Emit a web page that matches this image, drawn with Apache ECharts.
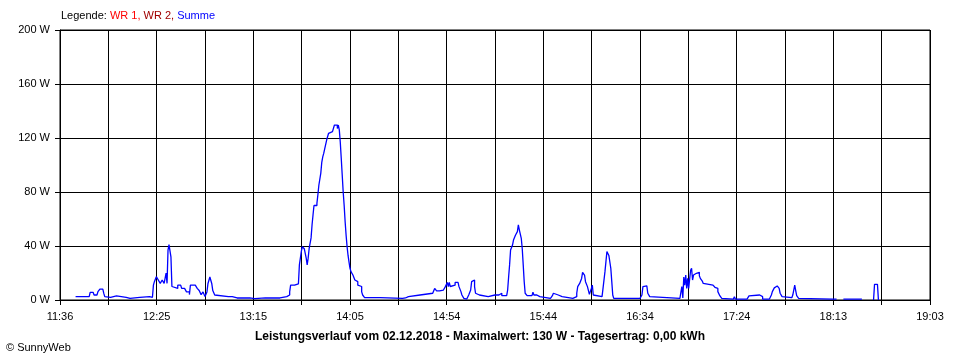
<!DOCTYPE html>
<html>
<head>
<meta charset="utf-8">
<script src="https://cdn.jsdelivr.net/npm/echarts@6/dist/echarts.min.js"></script>
<style>
html,body{margin:0;padding:0;background:#fff;}
#chart{width:960px;height:360px;}
</style>
</head>
<body>
<div id="chart"></div>
<script>
// ---- data ----
const axisStart = '11:36:00';
const axisEnd = '19:03:00';
const tickLabels = ['11:36','12:25','13:15','14:05','14:54','15:44','16:34','17:24','18:13','19:03'];
const yTicks = [0, 40, 80, 120, 160, 200];

const times = [
'11:44:00','11:48:30','11:51:00','11:51:30','11:53:00','11:53:30','11:55:00','11:55:30','11:56:30','11:58:00',
'11:58:30','11:59:00','12:00:00','12:02:00','12:02:30','12:05:00','12:05:30','12:10:00','12:12:00','12:17:00',
'12:22:00','12:23:30','12:24:00','12:24:30','12:25:30','12:26:30','12:27:30','12:28:30','12:29:30','12:30:30',
'12:31:00','12:31:30','12:32:00','12:32:30','12:33:00','12:33:30','12:34:00','12:36:30','12:38:00','12:38:30',
'12:40:00','12:41:00','12:42:30','12:43:00','12:45:30','12:46:30','12:47:30','12:48:30','12:49:30','12:50:30',
'12:51:30','12:52:00','12:53:00','12:54:00','12:54:30','12:55:30','12:56:30','13:02:30','13:04:30','13:07:00',
'13:08:00','13:11:00','13:13:30','13:16:00','13:17:00','13:21:30','13:24:00','13:25:00','13:29:00','13:32:30',
'13:34:00','13:34:30','13:36:30','13:38:30','13:39:00','13:40:00','13:40:30','13:41:30','13:42:30','13:43:00',
'13:43:30','13:44:00','13:45:00','13:45:30','13:46:00','13:46:30','13:48:00','13:48:30','13:49:00','13:50:00',
'13:50:30','13:51:00','13:51:30','13:52:00','13:52:30','13:53:00','13:54:00','13:55:00','13:56:00','13:56:30',
'13:57:00','13:58:30','13:59:00','13:59:30','14:00:00','14:00:30','14:01:00','14:01:30','14:02:00','14:02:30',
'14:03:00','14:03:30','14:04:00','14:04:30','14:05:00','14:05:30','14:06:00','14:06:30','14:07:30','14:08:30',
'14:09:00','14:10:00','14:11:00','14:11:30','14:12:30','14:16:00','14:17:00','14:20:30','14:32:00','14:33:30',
'14:35:00','14:41:00','14:42:00','14:47:30','14:48:30','14:49:30','14:51:00','14:53:00','14:54:00','14:55:00',
'14:55:30','14:56:00','14:56:30','14:57:30','14:59:00','15:00:30','15:01:00','15:02:00','15:02:30','15:03:30',
'15:04:30','15:05:00','15:06:00','15:07:00','15:07:30','15:08:00','15:09:00','15:09:30','15:10:00','15:11:30',
'15:16:00','15:17:00','15:19:30','15:20:00','15:20:30','15:21:30','15:23:00','15:25:30','15:26:00','15:26:30',
'15:27:00','15:27:30','15:28:30','15:29:00','15:30:00','15:31:00','15:31:30','15:32:00','15:33:00','15:33:30',
'15:34:00','15:34:30','15:35:00','15:36:00','15:38:30','15:39:00','15:39:30','15:41:00','15:42:30','15:48:00',
'15:49:00','15:49:30','15:50:30','15:52:00','15:54:00','15:59:30','16:00:30','16:01:30','16:02:00','16:03:00',
'16:04:00','16:04:30','16:05:30','16:06:00','16:07:00','16:08:00','16:09:00','16:09:30','16:10:00','16:11:00',
'16:14:30','16:15:00','16:16:00','16:16:30','16:17:00','16:17:30','16:18:00','16:19:00','16:19:30','16:20:00',
'16:20:30','16:34:00','16:35:00','16:35:30','16:36:30','16:37:30','16:38:00','16:39:00','16:40:00','16:54:30',
'16:55:30','16:56:00','16:56:30','16:57:00','16:57:30','16:58:00','16:58:30','16:59:00','16:59:30','17:00:00',
'17:00:30','17:01:00','17:01:30','17:02:00','17:03:00','17:03:30','17:04:30','17:05:00','17:06:00','17:06:30',
'17:07:30','17:11:30','17:12:30','17:13:30','17:14:00','17:15:00','17:16:00','17:16:30','17:22:00','17:22:30',
'17:23:00','17:29:00','17:29:30','17:30:00','17:31:00','17:35:30','17:36:00','17:37:00','17:40:30','17:41:00',
'17:41:30','17:42:00','17:43:00','17:43:30','17:44:30','17:45:30','17:46:00','17:47:00','17:47:30','17:52:00',
'17:52:30','17:53:00','17:53:30','17:54:00','17:54:30','17:55:30','17:56:00','18:13:00','18:15:00','18:18:30',
'18:23:30','18:28:00','18:34:00','18:34:30','18:36:00','18:36:30'
];

const watts = [
2.5,2.5,2.5,5.7,5.7,3.7,3.7,6.2,8.1,8.1,
4.9,2.5,2,2,3,3,2,1.2,2,2.5,
2,2.5,11,13.6,17.3,14.8,12.3,14.8,12.3,20,
12.3,37,41,40.7,32,10,8.6,11,11,8.6,
8.6,6,4,11,11,8.6,7,4,6,2.5,
6,12,17,12,7,3.7,2.5,2.5,1.5,0.5,
1.5,1.5,1,0.5,1.5,1.5,0.5,1.5,2.5,3.7,
6,11,12,12,26,36,39.5,38,31,26,
31,38,46,55.6,63,70,71.6,78,85,94,
102,106,108.6,112,113,118.5,123.5,124.7,123.5,126,
129.6,127,129.6,126,117,105,92.6,80,70,58,
48,39.5,33,28,23.5,21,19.8,18.5,14.8,13.6,
11,10,6,3.7,1.7,0.7,1.7,1.2,1.5,2.5,
3.7,3.7,5,5,8.6,6.7,7.4,6,9.9,13,
10,13,10,11,13,13,9.9,6.2,3.7,1.2,
0.7,1.7,3.7,7.4,13.6,14.8,9.9,5,3.7,2.5,
2.5,3.7,3.7,5,3.7,5,3.2,3.7,7.4,17,
26,37,40.7,44.4,48,50.6,55.6,52,45.7,38,
26,13.6,5,3.2,3.2,5.7,3.7,2.5,1.2,1.2,
3.2,5,3.7,2.5,1.2,1.2,2.5,5,9.9,12.3,
16,20.5,18.5,13.6,9.9,4.2,8.6,11,3.7,2.5,
2.5,8.6,21,28.4,35.8,37,33,23.5,13.6,3.7,
1.2,1.2,3.7,9.9,10.4,10.4,5,2.5,1.2,1.2,
10,1.5,17,11,18.5,8.6,16,8.6,8.6,22,
23.5,14.8,18.5,19.8,21,20.5,18,16,14,12.3,
11,11,9.4,8.6,6.2,3.2,1.2,0.7,0.7,2.5,
0.7,0.7,1.7,3,3.7,3.7,2.5,0.7,0.7,1.7,
3.7,6.2,9,10.4,10.4,8.6,5,2.5,1.7,1.7,
3.7,7.4,11,7,3.2,1.2,0.7,0.7,null,0.7,
0.7,null,0,11.6,11.6,0
];

const legendParts = ['Legende: ', 'WR 1,', ' WR 2,', ' Summe'];
const titleText = 'Leistungsverlauf vom 02.12.2018 - Maximalwert: 130 W - Tagesertrag: 0,00 kWh';
const copyText = '\u00A9 SunnyWeb';

// ---- build ----
function toSec(t) {
  const p = t.split(':').map(Number);
  return p[0] * 3600 + p[1] * 60 + (p[2] || 0);
}
const t0 = toSec(axisStart);
const span = toSec(axisEnd) - t0;          // 26820 s
const step = span / ((tickLabels.length - 1) * 2); // 1490 s
const seriesData = times.map((t, i) => [toSec(t) - t0, watts[i] === null ? '-' : watts[i]]);

const FONT = "'Liberation Sans', Arial, sans-serif";
const chart = echarts.init(document.getElementById('chart'), null, {renderer: 'canvas'});
chart.setOption({
  animation: false,
  backgroundColor: '#ffffff',
  grid: {left: 60, right: 30, top: 30, bottom: 60, show: true, borderColor: '#000', borderWidth: 1},
  xAxis: {
    type: 'value', min: 0, max: span, interval: step,
    axisLine: {show: true, lineStyle: {color: '#000', width: 1}},
    axisTick: {show: true, length: 5, lineStyle: {color: '#000'}},
    splitLine: {show: true, lineStyle: {color: '#000', width: 1}},
    axisLabel: {
      color: '#000', fontFamily: FONT, fontSize: 11, margin: 11,
      showMinLabel: true, showMaxLabel: true,
      formatter: function (v) {
        const k = Math.round(v / step);
        return k % 2 === 0 ? tickLabels[k / 2] : '';
      }
    }
  },
  yAxis: {
    type: 'value', min: yTicks[0], max: yTicks[yTicks.length - 1], interval: yTicks[1] - yTicks[0],
    axisLine: {show: true, lineStyle: {color: '#000', width: 1}},
    axisTick: {show: true, length: 5, lineStyle: {color: '#000'}},
    splitLine: {show: true, lineStyle: {color: '#000', width: 1}},
    axisLabel: {color: '#000', fontFamily: FONT, fontSize: 11, margin: 10, formatter: '{value} W'}
  },
  series: [{
    type: 'line', name: 'Summe', step: 'end', showSymbol: false, connectNulls: false,
    lineStyle: {color: '#0000ff', width: 1.3}, itemStyle: {color: '#0000ff'},
    data: seriesData
  }],
  graphic: [
    {type: 'text', left: 61, top: 10, style: {
      text: '{k|' + legendParts[0] + '}{a|' + legendParts[1] + '}{b|' + legendParts[2] + '}{c|' + legendParts[3] + '}',
      font: '11px ' + FONT,
      rich: {
        k: {fill: '#000', fontSize: 11, fontFamily: FONT},
        a: {fill: '#ff0000', fontSize: 11, fontFamily: FONT},
        b: {fill: '#a00000', fontSize: 11, fontFamily: FONT},
        c: {fill: '#0000ff', fontSize: 11, fontFamily: FONT}
      }
    }},
    {type: 'text', x: 480, y: 337, style: {
      text: titleText, fill: '#000', font: 'bold 12px ' + FONT, textAlign: 'center', textVerticalAlign: 'middle'
    }},
    {type: 'text', x: 6, y: 348, style: {
      text: copyText, fill: '#000', font: '11px ' + FONT, textAlign: 'left', textVerticalAlign: 'middle'
    }}
  ]
});
</script>
</body>
</html>
